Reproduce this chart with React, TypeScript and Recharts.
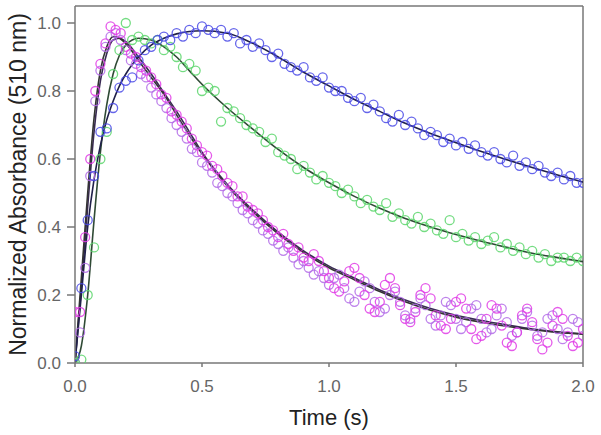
import {
  ComposedChart,
  Line,
  ReferenceLine,
  Scatter,
  XAxis,
  YAxis,
} from "recharts"

// sampling interval of the measured traces (s)
const blueDt = 0.025
const greenDt = 0.025
const pinkDt = 0.02

const blue = [
  0.02, 0.22, 0.42, 0.55, 0.68, 0.69, 0.75, 0.81, 0.83, 0.84,
  0.89, 0.92, 0.93, 0.95, 0.96, 0.95, 0.97, 0.96, 0.98, 0.97,
  0.99, 0.98, 0.97, 0.98, 0.96, 0.97, 0.94, 0.95, 0.93, 0.94,
  0.92, 0.9, 0.91, 0.88, 0.87, 0.86, 0.87, 0.84, 0.83, 0.84,
  0.81, 0.8, 0.8, 0.78, 0.77, 0.78, 0.75, 0.76, 0.74, 0.72,
  0.71, 0.73, 0.7, 0.71, 0.69, 0.67, 0.68, 0.67, 0.65, 0.66,
  0.64, 0.65, 0.63, 0.64, 0.62, 0.61, 0.62, 0.6, 0.59, 0.61,
  0.58, 0.59, 0.57, 0.58, 0.56, 0.55, 0.56, 0.54, 0.55, 0.53,
  0.53,
]

const green = [
  0.0, 0.01, 0.2, 0.34, 0.6, 0.68, 0.85, 0.92, 1.0, 0.95,
  0.96, 0.95, 0.94, 0.95, 0.92, 0.93, 0.9, 0.87, 0.88, 0.86,
  0.8, 0.81, 0.8, 0.71, 0.75, 0.74, 0.72, 0.7, 0.69, 0.68,
  0.65, 0.66, 0.62, 0.61, 0.6, 0.57, 0.58, 0.56, 0.54, 0.55,
  0.53, 0.52, 0.5, 0.51, 0.49, 0.47, 0.48, 0.46, 0.45, 0.47,
  0.43, 0.44, 0.42, 0.41, 0.43, 0.4, 0.41, 0.39, 0.38, 0.42,
  0.37, 0.38, 0.36, 0.37, 0.35, 0.36, 0.37, 0.34, 0.35, 0.33,
  0.34, 0.32, 0.33, 0.31, 0.32, 0.3, 0.31, 0.31, 0.3, 0.31,
  0.3,
]

const magenta = [
  0.15, 0.15, 0.37, 0.6, 0.8, 0.88, 0.94, 0.99, 0.98, 0.97,
  0.93, 0.91, 0.9, 0.87, 0.86, 0.84, 0.82, 0.79, 0.78, 0.74,
  0.73, 0.71, 0.69, 0.66, 0.64, 0.62, 0.61, 0.58, 0.57, 0.55,
  0.53, 0.52, 0.49, 0.49, 0.46, 0.45, 0.44, 0.42, 0.4, 0.39,
  0.37, 0.38, 0.35, 0.33, 0.34, 0.31, 0.3, 0.32, 0.3, 0.27,
  0.25, 0.22, 0.21, 0.24, 0.27, 0.28, 0.25, 0.2, 0.16, 0.15,
  0.18, 0.23, 0.25, 0.22, 0.17, 0.13, 0.12, 0.15, 0.2, 0.22,
  0.19, 0.14, 0.11, 0.1, 0.13, 0.18, 0.19, 0.16, 0.1, 0.07,
  0.08, 0.13, 0.17, 0.16, 0.11, 0.06, 0.05, 0.09, 0.14, 0.16,
  0.12, 0.07, 0.04, 0.06, 0.11, 0.15, 0.13, 0.08, 0.05, 0.06,
  0.1,
]

const purple = [
  0.0, 0.09, 0.28, 0.55, 0.77, 0.86, 0.93, 0.96, 0.97, 0.95,
  0.92, 0.89, 0.88, 0.85, 0.84, 0.81, 0.79, 0.77, 0.75, 0.72,
  0.7, 0.68, 0.66, 0.63, 0.62, 0.59, 0.58, 0.56, 0.53, 0.52,
  0.5, 0.49, 0.47, 0.45, 0.44, 0.42, 0.41, 0.39, 0.38, 0.36,
  0.35, 0.33, 0.34, 0.31, 0.29, 0.3, 0.28, 0.26, 0.27, 0.25,
  0.23, 0.25, 0.26, 0.22, 0.19, 0.18, 0.21, 0.24, 0.22, 0.18,
  0.15, 0.16, 0.2, 0.21, 0.18, 0.14, 0.13, 0.16, 0.19, 0.17,
  0.13, 0.11, 0.14, 0.18, 0.17, 0.13, 0.1, 0.12, 0.16, 0.17,
  0.13, 0.09, 0.1, 0.14, 0.16, 0.12, 0.08, 0.09, 0.13, 0.15,
  0.11, 0.08, 0.09, 0.13, 0.14, 0.1, 0.07, 0.09, 0.13, 0.12,
  0.08,
]

// fitted curves
const fitT = [
  0, 0.025, 0.05, 0.075, 0.1, 0.125, 0.15, 0.175, 0.2, 0.25,
  0.3, 0.35, 0.4, 0.45, 0.5, 0.6, 0.7, 0.8, 0.9, 1.0,
  1.1, 1.2, 1.3, 1.4, 1.5, 1.6, 1.7, 1.8, 1.9, 2.0,
]
const blueFit = [
  0, 0.2, 0.4, 0.54, 0.64, 0.715, 0.77, 0.815, 0.85, 0.9,
  0.935, 0.955, 0.968, 0.975, 0.977, 0.97, 0.94, 0.9, 0.855, 0.815,
  0.775, 0.74, 0.705, 0.675, 0.648, 0.622, 0.598, 0.575, 0.553, 0.532,
]
const greenFit = [
  0, 0.05, 0.2, 0.42, 0.62, 0.76, 0.85, 0.905, 0.935, 0.955,
  0.95, 0.93, 0.9, 0.86, 0.82, 0.75, 0.688, 0.628, 0.575, 0.53,
  0.49, 0.455, 0.425, 0.4, 0.378, 0.358, 0.34, 0.323, 0.31, 0.298,
]
const magentaFit = [
  0, 0.25, 0.5, 0.72, 0.86, 0.93, 0.96, 0.955, 0.94, 0.89,
  0.84, 0.79, 0.73, 0.67, 0.615, 0.52, 0.445, 0.38, 0.325, 0.28,
  0.245, 0.21, 0.18, 0.155, 0.135, 0.12, 0.108, 0.098, 0.09, 0.085,
]
const purpleFit = [
  0, 0.22, 0.46, 0.68, 0.83, 0.91, 0.95, 0.955, 0.945, 0.9,
  0.85, 0.795, 0.74, 0.68, 0.62, 0.525, 0.45, 0.385, 0.33, 0.285,
  0.25, 0.215, 0.185, 0.16, 0.14, 0.125, 0.112, 0.1, 0.092, 0.086,
]

const xTicks = [0, 0.5, 1.0, 1.5, 2.0]
const yTicks = [0, 0.2, 0.4, 0.6, 0.8, 1.0]

const toPoints = (vals: number[], dt: number) =>
  vals.map((y, i) => ({ t: +(i * dt).toFixed(3), y }))
const toFit = (vals: number[]) => vals.map((y, i) => ({ t: fitT[i], y }))

const ring = (color: string) => (props: any) =>
  <circle cx={props.cx} cy={props.cy} r={4.5} fill="none" stroke={color} strokeWidth={1.3} strokeOpacity={0.85} />

const FONT = "'Liberation Sans', Arial, sans-serif"
const tickStyle = { fill: "#666", fontSize: 17, fontFamily: FONT }

export default function App() {
  return (
    <div style={{ width: 601, height: 435, background: "#fff" }}>
      <style>{"body{margin:0}"}</style>
      <ComposedChart width={601} height={435} margin={{ top: 6, right: 18, bottom: 32, left: 30 }}>
        <XAxis
          type="number"
          dataKey="t"
          domain={[0, 2]}
          ticks={xTicks}
          tickFormatter={(v) => v.toFixed(1)}
          allowDataOverflow
          height={40}
          stroke="#777"
          strokeWidth={1.5}
          tickSize={4}
          tick={tickStyle}
          tickMargin={13}
          label={{ value: "Time (s)", position: "insideBottom", offset: -22, fill: "#222", fontSize: 22, fontFamily: FONT }}
        />
        <YAxis
          type="number"
          dataKey="y"
          domain={[0, 1.05]}
          ticks={yTicks}
          tickFormatter={(v) => v.toFixed(1)}
          allowDataOverflow
          width={45}
          stroke="#777"
          strokeWidth={1.5}
          tickSize={8}
          tick={tickStyle}
          tickMargin={6}
          label={{ value: "Normalized Absorbance (510 nm)", angle: -90, position: "insideLeft", offset: -12, style: { textAnchor: "middle" }, fill: "#222", fontSize: 23, fontFamily: FONT }}
        />
        <ReferenceLine y={1.05} stroke="#777" strokeWidth={1.5} ifOverflow="visible" />
        <ReferenceLine x={2} stroke="#777" strokeWidth={1.5} ifOverflow="visible" />
        <Scatter data={toPoints(purple, pinkDt)} dataKey="y" shape={ring("#b36ce8")} isAnimationActive={false} />
        <Scatter data={toPoints(magenta, pinkDt)} dataKey="y" shape={ring("#e03ce6")} isAnimationActive={false} />
        <Scatter data={toPoints(green, greenDt)} dataKey="y" shape={ring("#5cd66c")} isAnimationActive={false} />
        <Scatter data={toPoints(blue, blueDt)} dataKey="y" shape={ring("#4a4ae6")} isAnimationActive={false} />
        <Line data={toFit(purpleFit)} dataKey="y" type="monotone" dot={false} stroke="#3a2a55" strokeWidth={1.6} isAnimationActive={false} />
        <Line data={toFit(magentaFit)} dataKey="y" type="monotone" dot={false} stroke="#333" strokeWidth={1.6} isAnimationActive={false} />
        <Line data={toFit(greenFit)} dataKey="y" type="monotone" dot={false} stroke="#2f4a35" strokeWidth={1.6} isAnimationActive={false} />
        <Line data={toFit(blueFit)} dataKey="y" type="monotone" dot={false} stroke="#20204a" strokeWidth={1.6} isAnimationActive={false} />
      </ComposedChart>
    </div>
  )
}
